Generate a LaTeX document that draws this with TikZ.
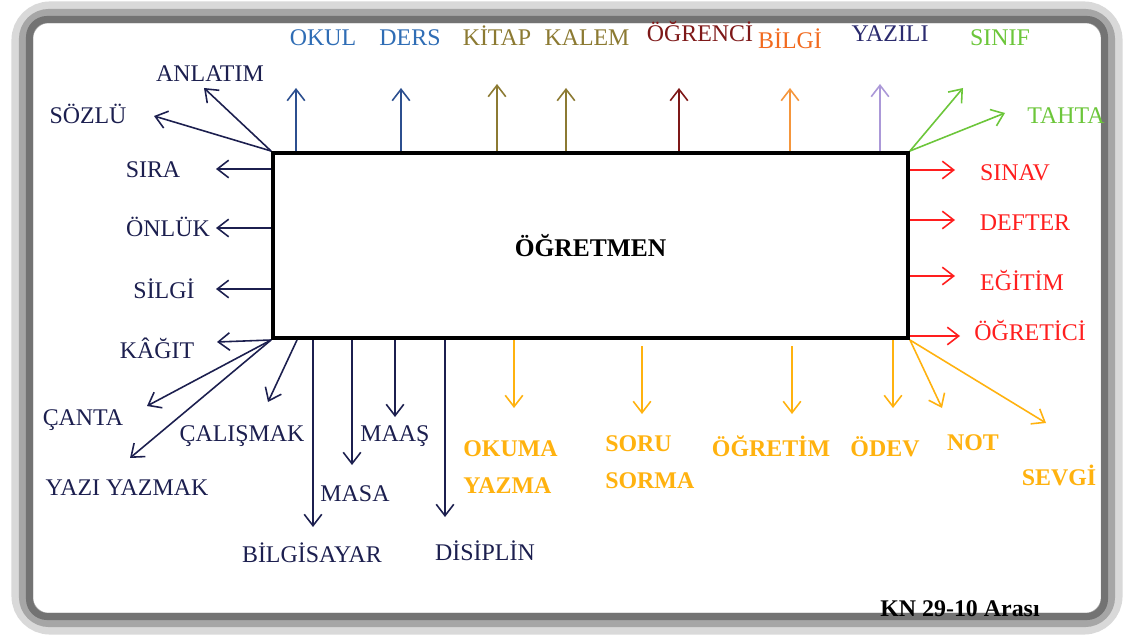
\documentclass[tikz,border=0pt]{standalone}
\usepackage{fontspec}
\setmainfont{Liberation Serif}
\usetikzlibrary{arrows.meta}

\definecolor{navy}{HTML}{1C1F4F}
\definecolor{okblue}{HTML}{2F6DB5}
\definecolor{okarrow}{HTML}{2C4F8F}
\definecolor{olive}{HTML}{8C7A32}
\definecolor{wine}{HTML}{7E1818}
\definecolor{tangerine}{HTML}{F26A1E}
\definecolor{peach}{HTML}{F5963C}
\definecolor{ink}{HTML}{2B2B6E}
\definecolor{lilac}{HTML}{AB98D8}
\definecolor{leaf}{HTML}{6CC63A}
\definecolor{alarm}{HTML}{FF1E1E}
\definecolor{amber}{HTML}{FFB20F}

\tikzstyle{lbl}=[inner sep=0pt, text height=9.2pt, text depth=0pt, font=\fontsize{13.6}{21}\selectfont]
\tikzstyle{blbl}=[lbl, font=\fontsize{13.6}{21}\selectfont\bfseries]
\tikzstyle{twoline}=[inner sep=0pt, anchor=north west, align=left, font=\fontsize{13.6}{21}\selectfont\bfseries]
\tikzstyle{arr}=[->, line width=0.9pt]

\begin{document}
\begin{tikzpicture}[x=0.02cm, y=-0.02cm, >={Straight Barb[length=6.5pt,width=10pt]}]
            % frame
            \fill[white] (0,0) rectangle (1125,638);
            \draw[black!15, line width=12pt, rounded corners=16pt] (22,12) rectangle (1112,624);
            \draw[black!35, line width=8pt, rounded corners=13pt] (26,16) rectangle (1108,620);
            \draw[black!55, line width=4pt, rounded corners=10pt] (29.5,19.5) rectangle (1104.5,616.5);

            \node[draw, line width=2.3pt, minimum width=12.7cm, minimum height=3.7cm, inner sep=0pt,
                  font=\fontsize{14.5}{16}\selectfont\bfseries] at (590.5,245.5) (box) {ÖĞRETMEN};

            % top
            \node[lbl, okblue] at (323,37) (okul) {OKUL};
            \node[lbl, okblue] at (410,37) (ders) {DERS};
            \node[lbl, olive] at (497,37) (kitap) {KİTAP};
            \node[lbl, olive] at (587,37) (kalem) {KALEM};
            \node[lbl, wine] at (700,33) (ogrenci) {ÖĞRENCİ};
            \node[lbl, tangerine] at (790,40) (bilgi) {BİLGİ};
            \node[lbl, ink] at (890,33) (yazili) {YAZILI};
            \node[lbl, leaf] at (1000,37) (sinif) {SINIF};
            \node[lbl, leaf] at (1066,115) (tahta) {TAHTA};
            \coordinate (t-okul) at (296,88);
            \coordinate (t-ders) at (401,88);
            \coordinate (t-kitap) at (497,84);
            \coordinate (t-kalem) at (566,88);
            \coordinate (t-ogrenci) at (679,88);
            \coordinate (t-bilgi) at (790,88);
            \coordinate (t-yazili) at (880,84);
            \coordinate (t-sinif) at (963,88);
            \coordinate (t-tahta) at (1005,113);
            \draw[arr, okarrow] (t-okul |- box.north) -- (t-okul);
            \draw[arr, okarrow] (t-ders |- box.north) -- (t-ders);
            \draw[arr, olive] (t-kitap |- box.north) -- (t-kitap);
            \draw[arr, olive] (t-kalem |- box.north) -- (t-kalem);
            \draw[arr, wine] (t-ogrenci |- box.north) -- (t-ogrenci);
            \draw[arr, peach] (t-bilgi |- box.north) -- (t-bilgi);
            \draw[arr, lilac] (t-yazili |- box.north) -- (t-yazili);
            \draw[arr, leaf] (box.north east) -- (t-sinif);
            \draw[arr, leaf] (box.north east) -- (t-tahta);

            % right
            \node[lbl, alarm] at (1015,172) (sinav) {SINAV};
            \node[lbl, alarm] at (1025,222) (defter) {DEFTER};
            \node[lbl, alarm] at (1022,282) (egitim) {EĞİTİM};
            \node[lbl, alarm] at (1030,332) (ogretici) {ÖĞRETİCİ};
            \coordinate (t-sinav) at (955,170);
            \coordinate (t-defter) at (955,220);
            \coordinate (t-egitim) at (955,276);
            \coordinate (t-ogretici) at (960,336);
            \draw[arr, alarm] (box.east |- t-sinav) -- (t-sinav);
            \draw[arr, alarm] (box.east |- t-defter) -- (t-defter);
            \draw[arr, alarm] (box.east |- t-egitim) -- (t-egitim);
            \draw[arr, alarm] (box.east |- t-ogretici) -- (t-ogretici);

            % bottom right
            \node[twoline, amber] at (463,440) (okuma) {OKUMA\\YAZMA};
            \node[twoline, amber] at (605,435) (soru) {SORU\\SORMA};
            \node[blbl, amber] at (771,448) (ogretim) {ÖĞRETİM};
            \node[blbl, amber] at (885,448) (odev) {ÖDEV};
            \node[blbl, amber] at (973,442) (not) {NOT};
            \node[blbl, amber] at (1059,477) (sevgi) {SEVGİ};
            \coordinate (t-okuma) at (514,408);
            \coordinate (t-soru) at (642,414);
            \coordinate (t-ogretim) at (792,414);
            \coordinate (t-odev) at (893,408);
            \coordinate (t-not) at (942,408);
            \coordinate (t-sevgi) at (1046,423);
            \draw[arr, amber] (t-okuma |- box.south) -- (t-okuma);
            \draw[arr, amber] (t-soru |- box.south) ++(0,6) -- (t-soru);
            \draw[arr, amber] (t-ogretim |- box.south) ++(0,6) -- (t-ogretim);
            \draw[arr, amber] (t-odev |- box.south) -- (t-odev);
            \draw[arr, amber] (box.south east) -- (t-not);
            \draw[arr, amber] (box.south east) -- (t-sevgi);

            % left
            \node[lbl, navy] at (210,73) (anlatim) {ANLATIM};
            \node[lbl, navy] at (88,115) (sozlu) {SÖZLÜ};
            \node[lbl, navy] at (153,169) (sira) {SIRA};
            \node[lbl, navy] at (168,228) (onluk) {ÖNLÜK};
            \node[lbl, navy] at (164,290) (silgi) {SİLGİ};
            \node[lbl, navy] at (157,350) (kagit) {KÂĞIT};
            \node[lbl, navy] at (83,417) (canta) {ÇANTA};
            \node[lbl, navy] at (127,487) (yazi) {YAZI YAZMAK};
            \node[lbl, navy] at (242,433) (calismak) {ÇALIŞMAK};
            \node[lbl, navy] at (395,433) (maas) {MAAŞ};
            \node[lbl, navy] at (355,493) (masa) {MASA};
            \node[lbl, navy] at (312,554) (bilgisayar) {BİLGİSAYAR};
            \node[lbl, navy] at (485,552) (disiplin) {DİSİPLİN};
            \coordinate (t-anlatim) at (204,88);
            \coordinate (t-sozlu) at (154,116);
            \coordinate (t-sira) at (216,169);
            \coordinate (t-onluk) at (216,228);
            \coordinate (t-silgi) at (216,289);
            \coordinate (t-kagit) at (217,342);
            \coordinate (t-canta) at (147,406);
            \coordinate (t-yazi) at (130,458);
            \coordinate (s-calismak) at (297,340);
            \coordinate (t-calismak) at (268,402);
            \coordinate (t-bilgisayar) at (313,527);
            \coordinate (t-masa) at (352,465);
            \coordinate (t-maas) at (395,417);
            \coordinate (t-disiplin) at (445,517);
            \draw[arr, navy] (box.north west) -- (t-anlatim);
            \draw[arr, navy] (box.north west) -- (t-sozlu);
            \draw[arr, navy] (box.west |- t-sira) -- (t-sira);
            \draw[arr, navy] (box.west |- t-onluk) -- (t-onluk);
            \draw[arr, navy] (box.west |- t-silgi) -- (t-silgi);
            \draw[arr, navy] (box.south west) -- (t-kagit);
            \draw[arr, navy] (box.south west) -- (t-canta);
            \draw[arr, navy] (box.south west) -- (t-yazi);
            \draw[arr, navy] (s-calismak) -- (t-calismak);
            \draw[arr, navy] (t-bilgisayar |- box.south) -- (t-bilgisayar);
            \draw[arr, navy] (t-masa |- box.south) -- (t-masa);
            \draw[arr, navy] (t-maas |- box.south) -- (t-maas);
            \draw[arr, navy] (t-disiplin |- box.south) -- (t-disiplin);

            \node[blbl] at (960,608) (kn) {KN 29-10 Arası};
        \end{tikzpicture}
\end{document}
